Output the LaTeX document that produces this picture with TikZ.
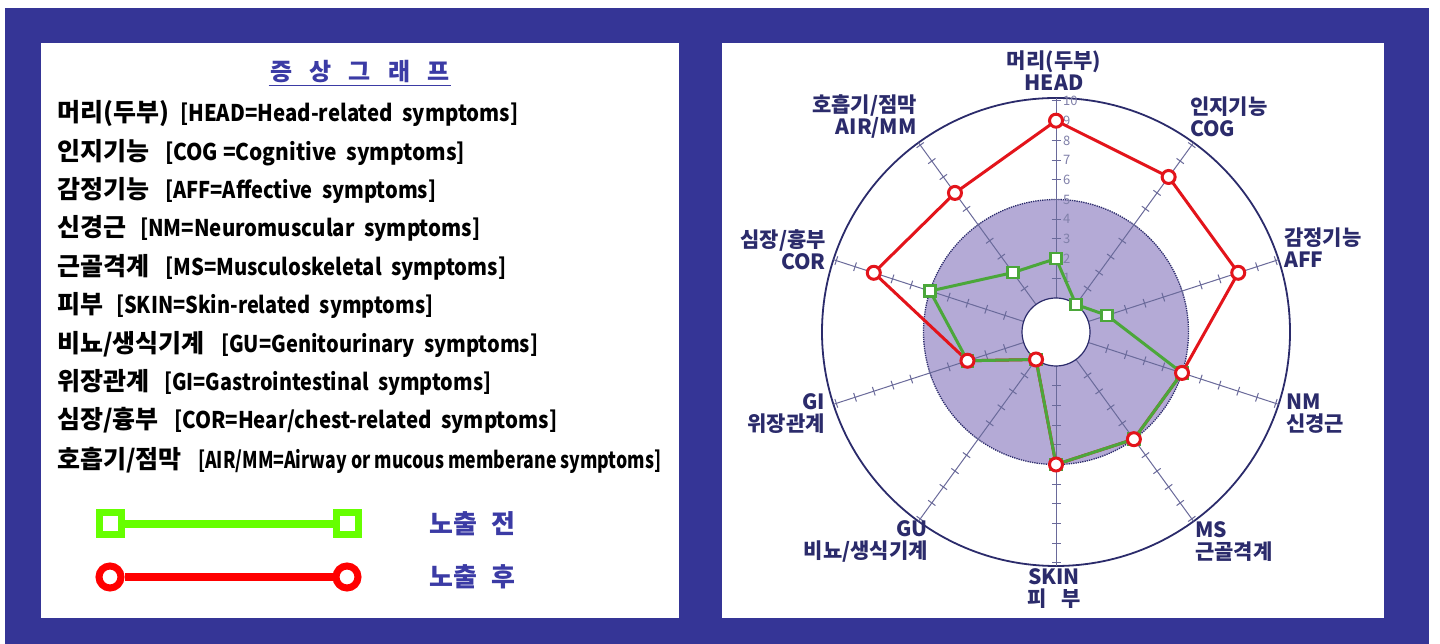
\documentclass[tikz,border=0pt]{standalone}
\usepackage{fontspec}
\setmainfont{Noto Sans CJK KR}
\usepackage{graphicx}
\usetikzlibrary{positioning}

\definecolor{bgblue}{HTML}{353596}
\definecolor{ttlblue}{HTML}{3B3BA5}
\definecolor{navy}{HTML}{2B2B6B}
\definecolor{spokegray}{HTML}{6A6A9A}
\definecolor{lowfill}{HTML}{B4AAD6}
\definecolor{afterred}{HTML}{E3141B}
\definecolor{beforegreen}{HTML}{4BA73A}
\definecolor{leggreen}{HTML}{66FF00}
\definecolor{legred}{HTML}{FF0000}

\begin{document}
\begin{tikzpicture}[
		x=1pt, y=1pt,
		panel/.style={fill=white},
		kor/.style={anchor=base west, inner sep=0pt, font=\fontsize{25}{28}\selectfont\bfseries},
		lat/.style={anchor=base west, inner sep=0pt, font=\fontsize{23}{26}\selectfont\bfseries},
		ttl/.style={inner sep=2pt, text=ttlblue, font=\fontsize{24}{28}\selectfont\bfseries},
		legtxt/.style={anchor=west, inner sep=0pt, text=ttlblue, font=\fontsize{26}{30}\selectfont\bfseries},
		gbox/.style={draw=leggreen, fill=white, line width=7pt, minimum size=22pt, inner sep=0pt},
		rbox/.style={circle, draw=legred, fill=white, line width=7pt, minimum size=22pt, inner sep=0pt},
		gline/.style={leggreen, line width=8pt},
		rline/.style={legred, line width=8pt},
		axlbl/.style={inner sep=0pt, text=navy, font=\fontsize{21}{22}\selectfont\bfseries},
		spoke/.style={spokegray, line width=1pt},
		rim/.style={navy, line width=1.8pt},
		lowzone/.style={fill=lowfill, draw=navy, densely dotted, line width=1.3pt},
		hole/.style={fill=white, draw=navy, line width=1.2pt},
		ticklbl/.style={anchor=west, inner sep=0pt, text=spokegray!85, font=\fontsize{13}{13}\selectfont},
		redline/.style={afterred, line width=3pt, line join=round},
		greenline/.style={beforegreen, line width=3pt, line join=round},
		redmark/.style={circle, draw=afterred, fill=white, line width=3pt, minimum size=13pt, inner sep=0pt},
		greenmark/.style={draw=beforegreen, fill=white, line width=2.7pt, minimum size=11pt, inner sep=0pt},
	]
		% frame
		\fill[white] (0,0) rectangle (1440,644);
		\fill[bgblue] (5,0) rectangle (1429,636);
		\useasboundingbox (0,0) rectangle (1440,644);
		\fill[panel] (41,26) rectangle (679,601);
		\fill[panel] (722,26) rectangle (1384,601);

		% left panel
		\node[ttl] (title) at (360,572) {증\hspace{17pt}상\hspace{17pt}그\hspace{17pt}래\hspace{17pt}프};
		\draw[ttlblue, line width=1.5pt] (title.south west) -- (title.south east);

		\foreach \yy/\kr/\lat/\xs/\xe [count=\i] in {
			113/{머리(두부)}/{[HEAD=Head-related\ \ symptoms]}/180/518,
			152/{인지기능}/{[COG =Cognitive\ \ symptoms]}/165/465,
			190/{감정기능}/{[AFF=Affective\ \ symptoms]}/165/436,
			228/{신경근}/{[NM=Neuromuscular\ \ symptoms]}/140/480,
			267/{근골격계}/{[MS=Musculoskeletal\ \ symptoms]}/165/506,
			305/{피부}/{[SKIN=Skin-related\ \ symptoms]}/116/433,
			344/{비뇨/생식기계}/{[GU=Genitourinary\ \ symptoms]}/221/538,
			382/{위장관계}/{[GI=Gastrointestinal\ \ symptoms]}/164/491,
			420/{심장/흉부}/{[COR=Hear/chest-related\ \ symptoms]}/174/557,
			460/{호흡기/점막}/{[AIR/MM=Airway or mucous memberane symptoms]}/198/661}
		{
			\pgfmathsetmacro\w{\xe-\xs}
			\node[kor] (k\i) at (57,{644-\yy-9}) {\kr};
			\node[lat] (l\i) at (\xs,{644-\yy-9}) {\resizebox{\w pt}{\height}{\lat}};
		}

		% legend
		\node[gbox] (preL) at (110,120) {};
		\node[gbox] (preR) at (347,120) {};
		\draw[gline] (preL) -- (preR);
		\node[legtxt, right=68pt of preR] (preLbl) {노출\hspace{14pt}전};
		\node[rbox] (postL) at (110,67) {};
		\node[rbox] (postR) at (347,67) {};
		\draw[rline] (postL) -- (postR);
		\node[legtxt, right=68pt of postR] (postLbl) {노출\hspace{14pt}후};

		% radar chart
		\begin{scope}[shift={(1056,312)}]
			\draw[lowzone] (0,0) circle (132.5);
			\draw[rim] (0,0) circle (234);
			\foreach \a in {90,54,18,-18,-54,-90,-126,-162,162,126} {
				\draw[spoke] (\a:34) -- (\a:234);
				\foreach \v in {1,...,10}
					\draw[spoke] (\a:{34+19.7*\v}) ++({\a+90}:4.5) -- ++({\a-90}:9);
			}
			\draw[hole] (0,0) circle (34);
			\foreach \v in {1,...,10}
				\node[ticklbl] (t\v) at (7,{34+19.7*\v}) {\v};

			\foreach \a/\v [count=\i] in {90/9,54/8,18/8,-18/5,-54/5,-90/5,-126/0,-162/3,162/8,126/7}
				\coordinate (red\i) at (\a:{34+19.7*\v});
			\foreach \a/\v [count=\i] in {90/2,54/0,18/1,-18/5,-54/5,-90/5,-126/0,-162/3,162/5,126/2}
				\coordinate (grn\i) at (\a:{34+19.7*\v});

			\draw[redline] (red1) -- (red2) -- (red3) -- (red4) -- (red5) -- (red6) -- (red7) -- (red8) -- (red9) -- (red10) -- cycle;
			\draw[greenline] (grn1) -- (grn2) -- (grn3) -- (grn4) -- (grn5) -- (grn6) -- (grn7) -- (grn8) -- (grn9) -- (grn10) -- cycle;
			\foreach \i in {1,...,10}
				\node[greenmark] (gm\i) at (grn\i) {};
			\foreach \i in {1,...,10}
				\node[redmark] (rm\i) at (red\i) {};
		\end{scope}

		% axis labels
		\node[axlbl, align=center] (lblHead) at (1054,573.5) {머리(두부)\\HEAD};
		\node[axlbl, align=left, anchor=west] (lblCog) at (1190,527) {인지기능\\COG};
		\node[axlbl, align=left, anchor=west] (lblAff) at (1284,396.5) {감정기능\\AFF};
		\node[axlbl, align=left, anchor=west] (lblNm) at (1286,230) {NM\\신경근};
		\node[axlbl, align=left, anchor=west] (lblMs) at (1195,102) {MS\\근골격계};
		\node[axlbl, align=center] (lblSkin) at (1054,55) {SKIN\\피\hspace{0.7em}부};
		\node[axlbl, align=right, anchor=east] (lblGu) at (928,103) {GU\\비뇨/생식기계};
		\node[axlbl, align=right, anchor=east] (lblGi) at (825,230) {GI\\위장관계};
		\node[axlbl, align=right, anchor=east] (lblCor) at (826,394.5) {심장/흉부\\COR};
		\node[axlbl, align=right, anchor=east] (lblAir) at (917,527.5) {호흡기/점막\\AIR/MM};
	\end{tikzpicture}
\end{document}
